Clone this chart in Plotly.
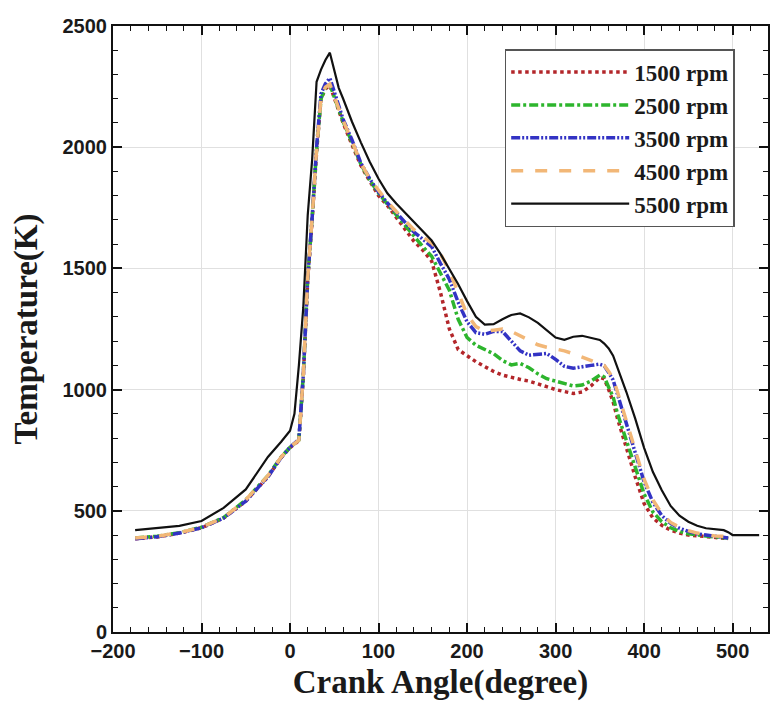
import plotly.graph_objects as go

angles = [-175, -150, -125, -100, -75, -50, -25, -10, 0, 5, 10, 15, 20, 25, 30, 35, 40, 45, 50, 55, 60,
          70, 80, 90, 100, 110, 120, 130, 140, 150, 160, 170, 180, 190, 200, 210, 220, 230, 240, 250,
          260, 270, 280, 290, 300, 310, 320, 330, 340, 350, 355, 360, 365, 370, 380, 390, 400, 410,
          420, 430, 440, 450, 460, 470, 480, 490, 495]
angles_5500 = angles + [500, 510, 520, 530]

t_1500 = [385, 392, 408, 430, 470, 540, 640, 720, 760, 775, 790, 1050, 1450, 1700, 1980, 2200, 2240, 2255, 2200, 2150, 2100,
          2010, 1925, 1860, 1800, 1760, 1710, 1660, 1612, 1575, 1530, 1400, 1250, 1165, 1140, 1115, 1095, 1075, 1060, 1050,
          1042, 1035, 1022, 1012, 1000, 992, 984, 990, 1015, 1050, 1045, 1000, 950, 880, 755, 640, 530, 470,
          440, 420, 408, 400, 397, 393, 390, 386, 385]
t_2500 = [388, 395, 410, 432, 472, 545, 645, 722, 762, 777, 792, 1060, 1460, 1710, 1990, 2200, 2245, 2258, 2205, 2155, 2105,
          2020, 1930, 1865, 1810, 1765, 1720, 1675, 1630, 1590, 1550, 1480, 1410, 1290, 1215, 1183, 1165, 1148, 1120, 1102,
          1108, 1090, 1065, 1045, 1035, 1025, 1015, 1019, 1035, 1060, 1052, 1010, 970, 900, 790, 680, 570, 495,
          455, 430, 415, 405, 400, 396, 392, 389, 388]
t_3500 = [385, 393, 408, 430, 470, 540, 640, 720, 762, 778, 795, 1060, 1460, 1710, 2000, 2220, 2262, 2285, 2230, 2170, 2115,
          2030, 1935, 1870, 1815, 1770, 1730, 1685, 1650, 1620, 1590, 1520, 1455, 1360, 1280, 1235, 1228, 1240, 1240, 1200,
          1160, 1142, 1145, 1149, 1125, 1096, 1088, 1095, 1100, 1105, 1098, 1070, 1040, 980, 860, 740, 620, 535,
          480, 448, 428, 415, 405, 400, 395, 390, 388]
t_4500 = [388, 395, 410, 432, 472, 545, 645, 722, 762, 777, 792, 1060, 1460, 1710, 1990, 2205, 2248, 2260, 2210, 2160, 2110,
          2025, 1935, 1870, 1820, 1775, 1735, 1695, 1660, 1630, 1605, 1560, 1490, 1400, 1310, 1260, 1240, 1245, 1250, 1240,
          1222, 1200, 1185, 1175, 1168, 1160, 1148, 1135, 1120, 1108, 1100, 1075, 1045, 990, 870, 750, 630, 545,
          488, 452, 432, 418, 408, 402, 396, 395, 405]
t_5500 = [420, 428, 438, 458, 512, 588, 722, 785, 830, 900, 1100, 1340, 1720, 1950, 2270, 2320, 2360, 2390, 2320, 2245, 2200,
          2105, 2020, 1940, 1870, 1810, 1768, 1730, 1690, 1650, 1615, 1560, 1500, 1435, 1365, 1300, 1268, 1270, 1290, 1308,
          1314, 1298, 1275, 1245, 1215, 1205, 1218, 1222, 1215, 1205, 1190, 1170, 1140, 1090, 990, 880, 760, 660,
          585, 520, 480, 455, 438, 428, 424, 420, 412, 400, 400, 400, 400]

series = [
    ("1500 rpm", angles, t_1500, "#b3262a", 3.5, "dot"),
    ("2500 rpm", angles, t_2500, "#2db52d", 3.5, "9px,3px,3px,3px"),
    ("3500 rpm", angles, t_3500, "#3333c4", 3.5, "9px,2px,2px,2px,2px,2px"),
    ("4500 rpm", angles, t_4500, "#f2b777", 3.5, "12px,12px"),
    ("5500 rpm", angles_5500, t_5500, "#111111", 2.2, "solid"),
]

fig = go.Figure()
for name, x, y, color, width, dash in series:
    fig.add_trace(go.Scatter(x=x, y=y, mode="lines", name=name,
                             line=dict(color=color, width=width, dash=dash)))

tickfont = dict(family="Liberation Sans, Arial", size=20, color="#1a1a1a", weight="bold")
titlefont = dict(family="Liberation Serif, Times New Roman", size=33, color="#1a1a1a", weight="bold")

fig.update_layout(
    width=776, height=705,
    margin=dict(l=113, r=6, t=26, b=73),
    paper_bgcolor="white", plot_bgcolor="white",
    showlegend=True,
    legend=dict(x=0.598, y=0.962, xanchor="left", yanchor="top",
                bgcolor="white", bordercolor="#555", borderwidth=1.5,
                font=dict(family="Liberation Serif, Times New Roman", size=23, color="#1a1a1a", weight="bold"),
                itemwidth=118, tracegroupgap=0),
    xaxis=dict(range=[-200, 540], tickvals=[-200, -100, 0, 100, 200, 300, 400, 500],
               showgrid=True, gridcolor="#e0e0e0", gridwidth=1, zeroline=False,
               showline=True, linecolor="#111", linewidth=2, mirror="allticks",
               ticks="inside", ticklen=9, tickwidth=2, tickcolor="#111",
               minor=dict(dtick=20, ticks="inside", ticklen=5, tickwidth=1, tickcolor="#111", showgrid=False),
               tickfont=tickfont,
               title=dict(text="Crank Angle(degree)", font=titlefont, standoff=9)),
    yaxis=dict(range=[0, 2500], tickvals=[0, 500, 1000, 1500, 2000, 2500],
               showgrid=True, gridcolor="#e0e0e0", gridwidth=1, zeroline=False,
               showline=True, linecolor="#111", linewidth=2, mirror="allticks",
               ticks="inside", ticklen=9, tickwidth=2, tickcolor="#111",
               minor=dict(dtick=100, ticks="inside", ticklen=5, tickwidth=1, tickcolor="#111", showgrid=False),
               tickfont=tickfont,
               title=dict(text="Temperature(K)", font=titlefont, standoff=15)),
)

fig.write_html("out.html")
